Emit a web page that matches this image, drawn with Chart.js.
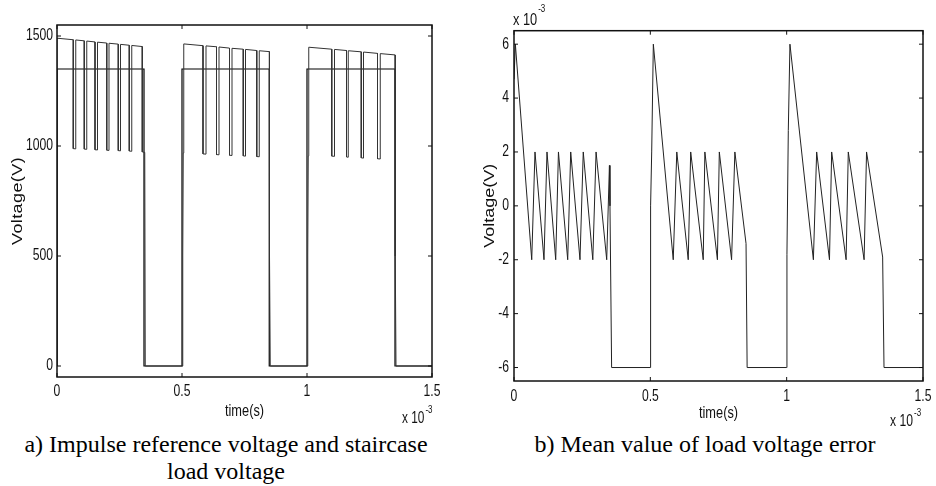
<!DOCTYPE html>
<html><head><meta charset="utf-8">
<script src="https://cdn.jsdelivr.net/npm/chart.js@4.4.0/dist/chart.umd.min.js"></script>
<style>
html,body{margin:0;padding:0;background:#fff;}
body{width:936px;height:486px;position:relative;overflow:hidden;}
canvas{position:absolute;top:0;}
#cA{left:0;} #cB{left:470px;}
.cap{position:absolute;font-family:'Liberation Serif','Times New Roman',serif;font-size:24px;line-height:27px;text-align:center;color:#000;white-space:nowrap;}
</style></head><body>
<canvas id="cA" width="470" height="430"></canvas>
<canvas id="cB" width="466" height="430"></canvas>
<div class="cap" style="left:0;width:452px;top:431px;">a) Impulse reference voltage and staircase<br>load voltage</div>
<div class="cap" style="left:480px;width:450px;top:431px;">b) Mean value of load voltage error</div>
<script>
// ---------- data (time in units of 10^-3 s) ----------
const xTickValues = [0, 0.5, 1, 1.5];
const xTickLabels = ['0', '0.5', '1', '1.5'];
const voltTickValues = [0, 500, 1000, 1500];
const voltTickLabels = ['0', '500', '1000', '1500'];
const errTickValues = [-6, -4, -2, 0, 2, 4, 6];
const errTickLabels = ['-6', '-4', '-2', '0', '2', '4', '6'];
const xTitle = 'time(s)';
const yTitle = 'Voltage(V)';
const expBase = 'x 10';
const expSup = '-3';

const loadTime = [0, 0,
  0.065, 0.065, 0.075, 0.075,
  0.109, 0.109, 0.119, 0.119,
  0.152, 0.152, 0.162, 0.162,
  0.199, 0.199, 0.208, 0.208,
  0.245, 0.245, 0.254, 0.254,
  0.289, 0.289, 0.299, 0.299,
  0.341, 0.341, 0.351, 0.353,
  0.503, 0.503, 0.505, 0.507,
  0.584, 0.584, 0.596, 0.596,
  0.638, 0.638, 0.648, 0.648,
  0.690, 0.690, 0.700, 0.700,
  0.745, 0.745, 0.754, 0.754,
  0.799, 0.799, 0.809, 0.809,
  0.849, 0.849, 0.851, 0.853,
  1.003, 1.003, 1.005, 1.007,
  1.099, 1.099, 1.110, 1.110,
  1.158, 1.158, 1.165, 1.165,
  1.217, 1.217, 1.226, 1.226,
  1.282, 1.282, 1.293, 1.293,
  1.352, 1.352, 1.354, 1.356,
  1.5];
const loadVolt = [0, 1490,
  1483, 988, 987, 1482,
  1478, 986, 985, 1477,
  1473, 983, 982, 1472,
  1468, 981, 980, 1467,
  1463, 979, 978, 1462,
  1458, 977, 976, 1457,
  1452, 973, 971, 0,
  0, 500, 968, 1464,
  1456, 964, 963, 1455,
  1451, 961, 960, 1450,
  1445, 958, 957, 1444,
  1440, 955, 954, 1439,
  1434, 952, 951, 1433,
  1429, 950, 500, 0,
  0, 500, 955, 1449,
  1440, 954, 953, 1439,
  1434, 950, 949, 1433,
  1428, 946, 945, 1427,
  1421, 942, 941, 1420,
  1414, 940, 500, 0,
  0];

const refTime = [0, 0, 0.348, 0.348, 0.5, 0.5, 0.849, 0.849, 1.0, 1.0, 1.352, 1.352, 1.5];
const refVolt = [0, 1350, 1350, 0, 0, 1350, 1350, 0, 0, 1350, 1350, 0, 0];

const errTime = [0, 0.005, 0.065, 0.077, 0.110, 0.121, 0.153, 0.163, 0.197, 0.208, 0.242, 0.254,
  0.289, 0.301, 0.340, 0.350, 0.352, 0.358, 0.499, 0.501, 0.505, 0.511, 0.584, 0.597, 0.639, 0.648,
  0.694, 0.700, 0.746, 0.753, 0.798, 0.810, 0.851, 0.855, 1.000, 1.001, 1.006, 1.012, 1.098, 1.110,
  1.157, 1.165, 1.218, 1.226, 1.284, 1.293, 1.352, 1.357, 1.5];
const errVal = [4.7, 6, -2, 2, -2, 2, -2, 2, -2, 2, -2, 2,
  -2, 2, -2, 1.5, 0, -6, -6, 0, 2, 6, -2, 2, -2, 2,
  -2, 2, -2, 2, -2, 2, -1.4, -6, -6, -1.8, 2.8, 6, -2, 2,
  -2, 2, -2, 2, -2, 2, -1.9, -6, -6];

// ---------- drawing ----------
const SANS = "'Liberation Sans',Arial,Helvetica,sans-serif";
const INK = '#111';
const SX = 0.76; // horizontal squeeze of the original figure's lettering

function sqText(ctx, text, x, y, size, align, sx) {
  ctx.save();
  ctx.translate(x, y);
  ctx.scale(sx, 1);
  ctx.font = size + 'px ' + SANS;
  ctx.textAlign = align;
  ctx.textBaseline = 'middle';
  ctx.fillText(text, 0, 0);
  ctx.restore();
}

const frame = {
  id: 'frame',
  afterDatasetsDraw(chart, args, o) {
    const {ctx, chartArea: a, scales: {x, y}} = chart;
    ctx.save();
    ctx.strokeStyle = INK; ctx.lineWidth = 1.5;
    ctx.strokeRect(a.left, a.top, a.right - a.left, a.bottom - a.top);
    ctx.lineWidth = 1;
    ctx.beginPath();
    xTickValues.forEach(v => { const p = x.getPixelForValue(v);
      ctx.moveTo(p, a.bottom); ctx.lineTo(p, a.bottom - 4);
      ctx.moveTo(p, a.top); ctx.lineTo(p, a.top + 4); });
    o.yTicks.forEach(v => { const p = y.getPixelForValue(v);
      ctx.moveTo(a.left, p); ctx.lineTo(a.left + 4, p);
      ctx.moveTo(a.right, p); ctx.lineTo(a.right - 4, p); });
    ctx.stroke();
    ctx.fillStyle = INK;
    // tick labels
    xTickValues.forEach((v, i) => sqText(ctx, xTickLabels[i], x.getPixelForValue(v), a.bottom + o.xLabDy, 16, 'center', SX));
    o.yTicks.forEach((v, i) => sqText(ctx, o.yLabels[i], a.left - o.yLabGap, y.getPixelForValue(v), 16, 'right', SX));
    // axis titles
    sqText(ctx, xTitle, (a.left + a.right) / 2, a.bottom + o.xTitleDy, 16, 'center', 0.8);
    ctx.save();
    ctx.translate(o.yTitleX, (a.top + a.bottom) / 2);
    ctx.scale(0.78, 1);
    ctx.rotate(-Math.PI / 2);
    ctx.font = '18px ' + SANS;
    ctx.textAlign = 'center'; ctx.textBaseline = 'middle';
    if (o.spacing) ctx.letterSpacing = o.spacing;
    ctx.fillText(yTitle, 0, 0);
    ctx.restore();
    // exponent labels
    (o.exps || []).forEach(e => {
      const bx = (e.fromRight ? a.right : a.left) + e.dx;
      const by = (e.fromBottom ? a.bottom : a.top) + e.dy;
      ctx.font = e.size + 'px ' + SANS;
      const w = ctx.measureText(expBase).width * e.sx;
      sqText(ctx, expBase, bx, by, e.size, 'left', e.sx);
      sqText(ctx, expSup, bx + w + 1, by + e.supDy, 10, 'left', 0.8);
    });
    ctx.restore();
  }
};

function pts(xs, ys) { return xs.map((t, i) => ({x: t, y: ys[i]})); }

function makeChart(id, datasets, c) {
  return new Chart(document.getElementById(id), {
    type: 'scatter',
    data: {datasets},
    options: {
      responsive: false, animation: false, devicePixelRatio: 1,
      layout: {padding: c.pad},
      plugins: {legend: {display: false}, tooltip: {enabled: false}, frame: c.frame},
      elements: {point: {radius: 0, hoverRadius: 0}, line: {tension: 0}},
      scales: {
        x: {
          type: 'linear', min: 0, max: 1.5,
          afterBuildTicks: s => { s.ticks = xTickValues.map(v => ({value: v})); },
          afterFit: s => { s.height = c.xH; },
          grid: {display: false}, border: {display: false},
          ticks: {display: false}
        },
        y: {
          type: 'linear', min: c.yMin, max: c.yMax,
          afterBuildTicks: s => { s.ticks = c.frame.yTicks.map(v => ({value: v})); },
          afterFit: s => { s.width = c.yW; },
          grid: {display: false}, border: {display: false},
          ticks: {display: false}
        }
      }
    },
    plugins: [frame]
  });
}

makeChart('cA', [
  {data: pts(loadTime, loadVolt), showLine: true, borderColor: '#333', borderWidth: 1, pointRadius: 0, fill: false},
  {data: pts(refTime, refVolt), showLine: true, borderColor: '#000', borderWidth: 1.2, pointRadius: 0, fill: false}
], {
  pad: {left: 0, top: 25, right: 38, bottom: 0},
  yW: 57, xH: 53,
  yMin: -50, yMax: 1550,
  frame: {
    yTicks: voltTickValues, yLabels: voltTickLabels,
    xLabDy: 15, yLabGap: 4, xTitleDy: 35, yTitleX: 18, spacing: '0.4px',
    exps: [{fromRight: true, fromBottom: true, dx: -30, dy: 42, size: 16, sx: 0.74, supDy: -9}]
  }
});

makeChart('cB', [
  {data: pts(errTime, errVal), showLine: true, borderColor: '#222', borderWidth: 1, pointRadius: 0, fill: false}
], {
  pad: {left: 0, top: 30.7, right: 13, bottom: 0},
  yW: 44, xH: 49,
  yMin: -6.5, yMax: 6.5,
  frame: {
    yTicks: errTickValues, yLabels: errTickLabels,
    xLabDy: 16, yLabGap: 5, xTitleDy: 33, yTitleX: 20,
    exps: [{fromRight: true, fromBottom: true, dx: -33, dy: 41, size: 16, sx: 0.76, supDy: -9},
           {fromRight: false, fromBottom: false, dx: -1, dy: -10, size: 16, sx: 0.8, supDy: -11}]
  }
});
</script>
</body></html>
